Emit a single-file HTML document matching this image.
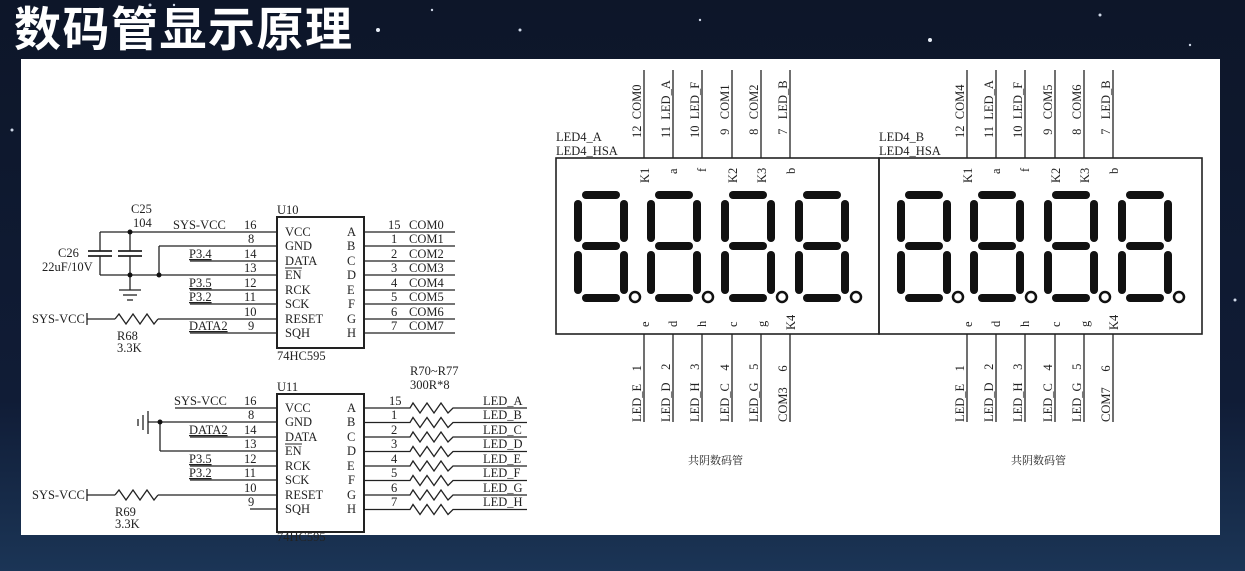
<!DOCTYPE html>
<html><head><meta charset="utf-8"><style>
html,body{margin:0;padding:0;}
body{width:1245px;height:571px;overflow:hidden;background:#0e1830;position:relative;font-family:"Liberation Serif",serif;}
.bg{position:absolute;left:0;top:0;width:1245px;height:571px;background:linear-gradient(180deg,#0d1629 0%,#101c36 70%,#1b3556 100%);}
.title{position:absolute;left:14px;top:2px;font-family:"Liberation Sans","Noto Sans CJK SC",sans-serif;font-weight:bold;font-size:47px;color:#fff;letter-spacing:1.5px;line-height:56px;}
.panel{position:absolute;left:21px;top:59px;width:1199px;height:476px;background:#fff;}
svg{position:absolute;left:0;top:0;}
text{font-family:"Liberation Serif",serif;font-size:12.5px;fill:#222;}
.r{white-space:pre;}
</style></head><body>
<div class="bg"></div>
<svg width="1245" height="571">
<circle cx="150" cy="5" r="1.5" fill="#cfd8e8"/><circle cx="174" cy="5" r="1.2" fill="#cfd8e8"/><circle cx="378" cy="30" r="2" fill="#e8eef8"/><circle cx="432" cy="10" r="1.2" fill="#cfd8e8"/><circle cx="520" cy="30" r="1.5" fill="#cfd8e8"/><circle cx="700" cy="20" r="1.2" fill="#cfd8e8"/><circle cx="930" cy="40" r="2" fill="#e8eef8"/><circle cx="1100" cy="15" r="1.5" fill="#cfd8e8"/><circle cx="1190" cy="45" r="1.2" fill="#cfd8e8"/><circle cx="12" cy="130" r="1.5" fill="#cfd8e8"/><circle cx="1235" cy="300" r="1.5" fill="#cfd8e8"/>
</svg>
<div class="title">数码管显示原理</div>
<div class="panel"></div>
<svg width="1245" height="571" stroke="#222" fill="none">
<defs>
<g id="dg" stroke="#111" stroke-width="8" stroke-linecap="round">
<line x1="11" y1="4" x2="41" y2="4"/><line x1="3" y1="13" x2="3" y2="47"/><line x1="49" y1="13" x2="49" y2="47"/>
<line x1="11" y1="55" x2="41" y2="55"/><line x1="3" y1="64" x2="3" y2="99"/><line x1="49" y1="64" x2="49" y2="99"/>
<line x1="11" y1="107" x2="41" y2="107"/>
<circle cx="60" cy="106" r="5" stroke-width="2.5"/>
</g>
</defs>
<g stroke-width="1.3">
<rect x="277" y="217" width="87" height="131" stroke-width="2"/>
<line x1="100" y1="232" x2="277" y2="232"/>
<line x1="159" y1="246" x2="277" y2="246"/>
<line x1="190" y1="261" x2="277" y2="261"/>
<line x1="100" y1="275" x2="277" y2="275"/>
<line x1="190" y1="290" x2="277" y2="290"/>
<line x1="190" y1="304" x2="277" y2="304"/>
<line x1="87" y1="319" x2="115" y2="319"/><polyline points="115,319 119,314 126,324 133,314 140,324 147,314 154,324 158,319"/><line x1="158" y1="319" x2="277" y2="319"/>
<line x1="87" y1="313" x2="87" y2="325"/>
<line x1="190" y1="333" x2="277" y2="333"/>
<line x1="159" y1="246" x2="159" y2="275"/>
<line x1="100" y1="232" x2="100" y2="251"/><line x1="100" y1="256" x2="100" y2="275"/>
<line x1="130" y1="232" x2="130" y2="251"/><line x1="130" y1="256" x2="130" y2="290"/>
<line x1="88" y1="251" x2="112" y2="251" stroke-width="1.8"/><line x1="88" y1="256" x2="112" y2="256" stroke-width="1.8"/>
<line x1="118" y1="251" x2="142" y2="251" stroke-width="1.8"/><line x1="118" y1="256" x2="142" y2="256" stroke-width="1.8"/>
<line x1="119" y1="290" x2="141" y2="290"/><line x1="123" y1="295" x2="137" y2="295"/><line x1="127" y1="300" x2="133" y2="300"/>
<g fill="#111" stroke="none"><circle cx="130" cy="232" r="2.5"/><circle cx="130" cy="275" r="2.5"/><circle cx="159" cy="275" r="2.5"/></g>
<line x1="364" y1="232" x2="455" y2="232"/><line x1="364" y1="246" x2="455" y2="246"/><line x1="364" y1="261" x2="455" y2="261"/><line x1="364" y1="275" x2="455" y2="275"/><line x1="364" y1="290" x2="455" y2="290"/><line x1="364" y1="304" x2="455" y2="304"/><line x1="364" y1="319" x2="455" y2="319"/><line x1="364" y1="333" x2="455" y2="333"/>
<rect x="277" y="394" width="87" height="138" stroke-width="2"/>
<line x1="175" y1="408" x2="277" y2="408"/>
<line x1="148" y1="422" x2="277" y2="422"/>
<line x1="190" y1="437" x2="277" y2="437"/>
<line x1="160" y1="451" x2="277" y2="451"/><line x1="160" y1="422" x2="160" y2="451"/>
<line x1="190" y1="466" x2="277" y2="466"/>
<line x1="190" y1="480" x2="277" y2="480"/>
<line x1="87" y1="495" x2="115" y2="495"/><polyline points="115,495 119,490 126,500 133,490 140,500 147,490 154,500 158,495"/><line x1="158" y1="495" x2="277" y2="495"/>
<line x1="87" y1="489" x2="87" y2="501"/>
<line x1="250" y1="509" x2="277" y2="509"/>
<line x1="148" y1="411" x2="148" y2="434"/><line x1="143" y1="415" x2="143" y2="430"/><line x1="138" y1="419" x2="138" y2="426"/>
<circle cx="160" cy="422" r="2.5" fill="#111" stroke="none"/>
<g id="rr">
<polyline points="364,408 410,408 413,403 420,413 427,403 434,413 441,403 448,413 453,408 527,408"/>
</g>
<use href="#rr" y="14.5"/><use href="#rr" y="29"/><use href="#rr" y="43.5"/><use href="#rr" y="58"/><use href="#rr" y="72.5"/><use href="#rr" y="87"/><use href="#rr" y="101.5"/>
<rect x="556" y="158" width="323" height="176" stroke-width="1.6"/>
<rect x="879" y="158" width="323" height="176" stroke-width="1.6"/>
<g id="pins">
<line x1="644" y1="70" x2="644" y2="158"/><line x1="673" y1="70" x2="673" y2="158"/><line x1="702" y1="70" x2="702" y2="158"/><line x1="732" y1="70" x2="732" y2="158"/><line x1="761" y1="70" x2="761" y2="158"/><line x1="790" y1="70" x2="790" y2="158"/>
<line x1="644" y1="334" x2="644" y2="422"/><line x1="673" y1="334" x2="673" y2="422"/><line x1="702" y1="334" x2="702" y2="422"/><line x1="732" y1="334" x2="732" y2="422"/><line x1="761" y1="334" x2="761" y2="422"/><line x1="790" y1="334" x2="790" y2="422"/>
</g>
<use href="#pins" x="323"/>
</g>
<use href="#dg" x="575" y="191"/><use href="#dg" x="648" y="191"/><use href="#dg" x="722" y="191"/><use href="#dg" x="796" y="191"/>
<use href="#dg" x="898" y="191"/><use href="#dg" x="971" y="191"/><use href="#dg" x="1045" y="191"/><use href="#dg" x="1119" y="191"/>
<g stroke="none" fill="#222">
<text x="131" y="213">C25</text><text x="133" y="227">104</text>
<text x="58" y="257">C26</text><text x="42" y="271">22uF/10V</text>
<text x="173" y="229">SYS-VCC</text>
<text x="244" y="229">16</text><text x="248" y="243">8</text><text x="244" y="258">14</text><text x="244" y="272">13</text><text x="244" y="287">12</text><text x="244" y="301">11</text><text x="244" y="316">10</text><text x="248" y="330">9</text>
<text x="189" y="258" text-decoration="underline">P3.4</text><text x="189" y="287" text-decoration="underline">P3.5</text><text x="189" y="301" text-decoration="underline">P3.2</text><text x="189" y="330" text-decoration="underline">DATA2</text>
<text x="32" y="323">SYS-VCC</text><text x="117" y="340">R68</text><text x="117" y="352">3.3K</text>
<text x="277" y="214">U10</text><text x="277" y="360">74HC595</text>
<text x="285" y="236">VCC</text><text x="285" y="250">GND</text><text x="285" y="265">DATA</text><text x="285" y="279">EN</text><text x="285" y="294">RCK</text><text x="285" y="308">SCK</text><text x="285" y="323">RESET</text><text x="285" y="337">SQH</text>
<line x1="285" y1="268" x2="302" y2="268" stroke="#222" stroke-width="1"/>
<text x="347" y="236">A</text><text x="347" y="250">B</text><text x="347" y="265">C</text><text x="347" y="279">D</text><text x="347" y="294">E</text><text x="348" y="308">F</text><text x="347" y="323">G</text><text x="347" y="337">H</text>
<text x="388" y="229">15</text><text x="391" y="243">1</text><text x="391" y="258">2</text><text x="391" y="272">3</text><text x="391" y="287">4</text><text x="391" y="301">5</text><text x="391" y="316">6</text><text x="391" y="330">7</text>
<text x="409" y="229">COM0</text><text x="409" y="243">COM1</text><text x="409" y="258">COM2</text><text x="409" y="272">COM3</text><text x="409" y="287">COM4</text><text x="409" y="301">COM5</text><text x="409" y="316">COM6</text><text x="409" y="330">COM7</text>
<text x="174" y="405">SYS-VCC</text><text x="244" y="405">16</text><text x="248" y="419">8</text><text x="244" y="434">14</text><text x="244" y="448">13</text><text x="244" y="463">12</text><text x="244" y="477">11</text><text x="244" y="492">10</text><text x="248" y="506">9</text>
<text x="189" y="434" text-decoration="underline">DATA2</text><text x="189" y="463" text-decoration="underline">P3.5</text><text x="189" y="477" text-decoration="underline">P3.2</text>
<text x="32" y="499">SYS-VCC</text><text x="115" y="516">R69</text><text x="115" y="528">3.3K</text>
<text x="277" y="391">U11</text><text x="277" y="541">74HC595</text>
<text x="285" y="412">VCC</text><text x="285" y="426">GND</text><text x="285" y="441">DATA</text><text x="285" y="455">EN</text><text x="285" y="470">RCK</text><text x="285" y="484">SCK</text><text x="285" y="499">RESET</text><text x="285" y="513">SQH</text>
<line x1="285" y1="444" x2="302" y2="444" stroke="#222" stroke-width="1"/>
<text x="347" y="412">A</text><text x="347" y="426">B</text><text x="347" y="441">C</text><text x="347" y="455">D</text><text x="347" y="470">E</text><text x="348" y="484">F</text><text x="347" y="499">G</text><text x="347" y="513">H</text>
<text x="389" y="405">15</text><text x="391" y="419">1</text><text x="391" y="434">2</text><text x="391" y="448">3</text><text x="391" y="463">4</text><text x="391" y="477">5</text><text x="391" y="492">6</text><text x="391" y="506">7</text>
<text x="410" y="375">R70~R77</text><text x="410" y="389">300R*8</text>
<text x="483" y="405">LED_A</text><text x="483" y="419">LED_B</text><text x="483" y="434">LED_C</text><text x="483" y="448">LED_D</text><text x="483" y="463">LED_E</text><text x="483" y="477">LED_F</text><text x="483" y="492">LED_G</text><text x="483" y="506">LED_H</text>
<text x="556" y="141">LED4_A</text><text x="556" y="155">LED4_HSA</text>
<text x="879" y="141">LED4_B</text><text x="879" y="155">LED4_HSA</text>
<g font-size="12.5">
<text class="r" transform="translate(641,138) rotate(-90)">12  COM0</text>
<text class="r" transform="translate(670,138) rotate(-90)">11  LED_A</text>
<text class="r" transform="translate(699,138) rotate(-90)">10  LED_F</text>
<text class="r" transform="translate(729,138) rotate(-90)"> 9   COM1</text>
<text class="r" transform="translate(758,138) rotate(-90)"> 8   COM2</text>
<text class="r" transform="translate(787,138) rotate(-90)"> 7   LED_B</text>
<text class="r" transform="translate(964,138) rotate(-90)">12  COM4</text>
<text class="r" transform="translate(993,138) rotate(-90)">11  LED_A</text>
<text class="r" transform="translate(1022,138) rotate(-90)">10  LED_F</text>
<text class="r" transform="translate(1052,138) rotate(-90)"> 9   COM5</text>
<text class="r" transform="translate(1081,138) rotate(-90)"> 8   COM6</text>
<text class="r" transform="translate(1110,138) rotate(-90)"> 7   LED_B</text>
<text class="r" transform="translate(641,422) rotate(-90)">LED_E    1</text>
<text class="r" transform="translate(670,422) rotate(-90)">LED_D    2</text>
<text class="r" transform="translate(699,422) rotate(-90)">LED_H    3</text>
<text class="r" transform="translate(729,422) rotate(-90)">LED_C    4</text>
<text class="r" transform="translate(758,422) rotate(-90)">LED_G    5</text>
<text class="r" transform="translate(787,422) rotate(-90)">COM3     6</text>
<text class="r" transform="translate(964,422) rotate(-90)">LED_E    1</text>
<text class="r" transform="translate(993,422) rotate(-90)">LED_D    2</text>
<text class="r" transform="translate(1022,422) rotate(-90)">LED_H    3</text>
<text class="r" transform="translate(1052,422) rotate(-90)">LED_C    4</text>
<text class="r" transform="translate(1081,422) rotate(-90)">LED_G    5</text>
<text class="r" transform="translate(1110,422) rotate(-90)">COM7     6</text>
</g>
<g font-size="11">
<text transform="translate(649,183) rotate(-90)">K1</text><text transform="translate(677,174) rotate(-90)">a</text><text transform="translate(706,172) rotate(-90)">f</text><text transform="translate(737,183) rotate(-90)">K2</text><text transform="translate(766,183) rotate(-90)">K3</text><text transform="translate(795,174) rotate(-90)">b</text>
<text transform="translate(972,183) rotate(-90)">K1</text><text transform="translate(1000,174) rotate(-90)">a</text><text transform="translate(1029,172) rotate(-90)">f</text><text transform="translate(1060,183) rotate(-90)">K2</text><text transform="translate(1089,183) rotate(-90)">K3</text><text transform="translate(1118,174) rotate(-90)">b</text>
<text transform="translate(649,327) rotate(-90)">e</text><text transform="translate(677,327) rotate(-90)">d</text><text transform="translate(706,327) rotate(-90)">h</text><text transform="translate(737,327) rotate(-90)">c</text><text transform="translate(766,327) rotate(-90)">g</text><text transform="translate(795,330) rotate(-90)">K4</text>
<text transform="translate(972,327) rotate(-90)">e</text><text transform="translate(1000,327) rotate(-90)">d</text><text transform="translate(1029,327) rotate(-90)">h</text><text transform="translate(1060,327) rotate(-90)">c</text><text transform="translate(1089,327) rotate(-90)">g</text><text transform="translate(1118,330) rotate(-90)">K4</text>
</g>
<text x="688" y="464" style="font-family:'Liberation Serif','Noto Serif CJK SC',serif;font-size:11px">共阴数码管</text>
<text x="1011" y="464" style="font-family:'Liberation Serif','Noto Serif CJK SC',serif;font-size:11px">共阴数码管</text>
</g>
</svg>
</body></html>
